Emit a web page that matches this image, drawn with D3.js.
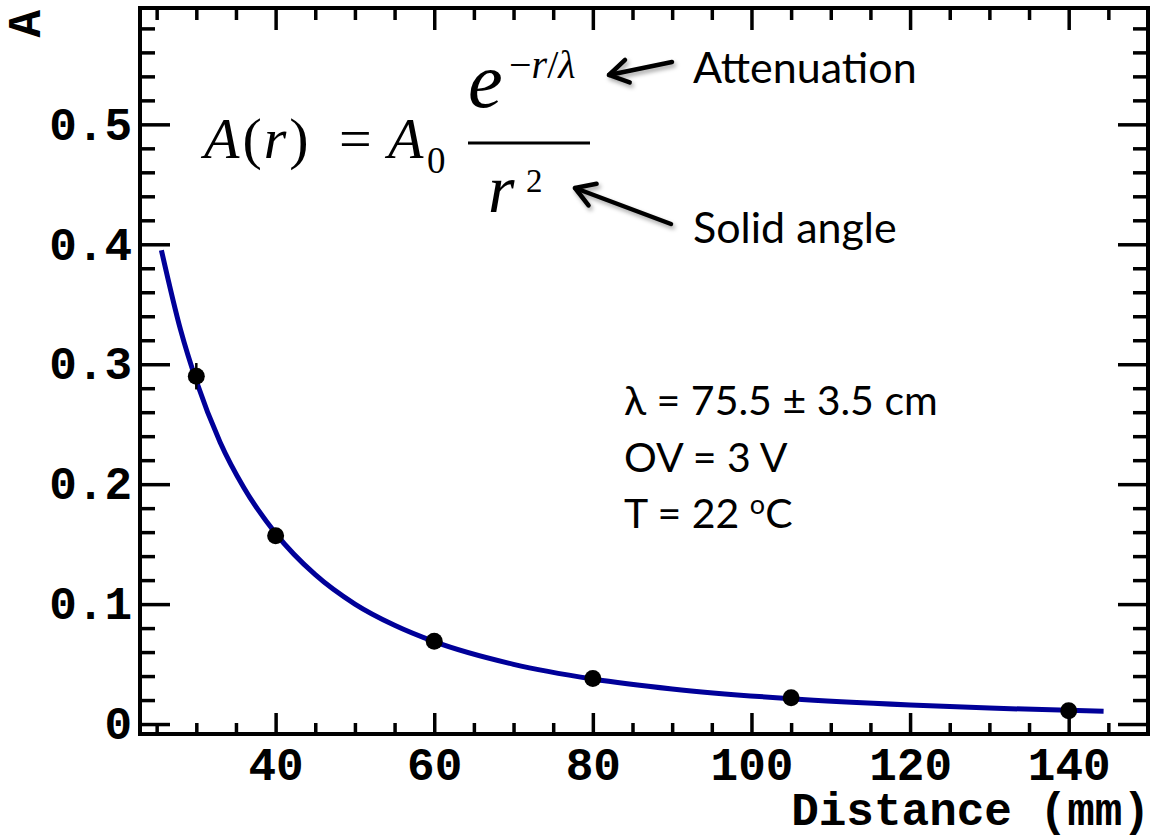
<!DOCTYPE html>
<html>
<head>
<meta charset="utf-8">
<script src="https://cdn.jsdelivr.net/npm/d3@7"></script>
<style>
  body { margin: 0; background: #fff; }
  svg { display: block; }
</style>
</head>
<body>
<div id="chart"></div>
<script>
// measured points: distance (mm) and amplitude
var distance = [30, 40, 60, 80, 105, 140];
var amplitude = [0.290, 0.157, 0.069, 0.038, 0.022, 0.011];
var ampError = [0.011, 0.004, 0.003, 0.002, 0.002, 0.002];

// fit curve
var fitR = [25.6, 28, 30, 33, 36, 40, 45, 50, 55, 60, 70, 80, 90, 105, 120, 130, 144.4];
var fitA = [0.395, 0.329, 0.286, 0.235, 0.197, 0.159, 0.1245, 0.100, 0.0823, 0.0687,
            0.0498, 0.0376, 0.0293, 0.0211, 0.0159, 0.0133, 0.0106];

var xMajor = [40, 60, 80, 100, 120, 140];
var xMinor = [25, 30, 35, 45, 50, 55, 65, 70, 75, 85, 90, 95, 105, 110, 115, 125, 130, 135, 145];
var yMajor = [0, 0.1, 0.2, 0.3, 0.4, 0.5];
var yMinor = [0.02, 0.04, 0.06, 0.08, 0.12, 0.14, 0.16, 0.18, 0.22, 0.24, 0.26, 0.28,
              0.32, 0.34, 0.36, 0.38, 0.42, 0.44, 0.46, 0.48, 0.52, 0.54, 0.56, 0.58];

var width = 1153, height = 839;
var margin = {top: 8, right: 5, bottom: 105, left: 140};
var w = width - margin.left - margin.right;
var h = height - margin.top - margin.bottom;

var svg = d3.select("#chart").append("svg")
  .attr("width", width)
  .attr("height", height);

var defs = svg.append("defs");
var shadow = defs.append("filter").attr("id", "shadow")
  .attr("x", "-20%").attr("y", "-50%").attr("width", "140%").attr("height", "200%");
shadow.append("feDropShadow")
  .attr("dx", 2).attr("dy", 3).attr("stdDeviation", 2)
  .attr("flood-color", "#000").attr("flood-opacity", 0.35);

var g = svg.append("g")
  .attr("transform", "translate(" + margin.left + "," + margin.top + ")");

var x = d3.scaleLinear().domain([22.9, 150]).range([0, w]);
var y = d3.scaleLinear().domain([-0.0083, 0.597]).range([h, 0]);

var tickFont = "'Liberation Mono', 'Courier New', monospace";

function styleAxis(sel) {
  sel.select(".domain").remove();
  sel.selectAll("line").attr("stroke", "#000").attr("stroke-width", 3.5);
  sel.selectAll("text")
    .attr("fill", "#000")
    .style("font-family", tickFont)
    .style("font-weight", "bold")
    .style("font-size", "46px");
}

// bottom axis
g.append("g").attr("transform", "translate(0," + h + ")")
  .call(d3.axisBottom(x).tickValues(xMajor).tickSize(-21).tickPadding(13).tickFormat(d3.format("d")))
  .call(styleAxis);
g.append("g").attr("transform", "translate(0," + h + ")")
  .call(d3.axisBottom(x).tickValues(xMinor).tickSize(-11).tickFormat(""))
  .call(styleAxis);
// top axis
g.append("g")
  .call(d3.axisTop(x).tickValues(xMajor).tickSize(-22).tickFormat(""))
  .call(styleAxis);
g.append("g")
  .call(d3.axisTop(x).tickValues(xMinor).tickSize(-12).tickFormat(""))
  .call(styleAxis);
// left axis
g.append("g")
  .call(d3.axisLeft(y).tickValues(yMajor).tickSize(-30).tickPadding(8)
    .tickFormat(function(d) { return d === 0 ? "0" : d3.format(".1f")(d); }))
  .call(styleAxis);
g.append("g")
  .call(d3.axisLeft(y).tickValues(yMinor).tickSize(-15).tickFormat(""))
  .call(styleAxis);
// right axis
g.append("g").attr("transform", "translate(" + w + ",0)")
  .call(d3.axisRight(y).tickValues(yMajor).tickSize(-30).tickFormat(""))
  .call(styleAxis);
g.append("g").attr("transform", "translate(" + w + ",0)")
  .call(d3.axisRight(y).tickValues(yMinor).tickSize(-15).tickFormat(""))
  .call(styleAxis);

// frame
g.append("rect")
  .attr("width", w).attr("height", h)
  .attr("fill", "none").attr("stroke", "#000").attr("stroke-width", 4);

// axis titles
svg.append("text")
  .attr("x", margin.left + w + 2).attr("y", 825)
  .attr("text-anchor", "end")
  .style("font-family", tickFont).style("font-weight", "bold").style("font-size", "46px")
  .text("Distance (mm)");
svg.append("text")
  .attr("transform", "translate(40," + (margin.top + 2) + ") rotate(-90)")
  .attr("text-anchor", "end")
  .style("font-family", tickFont).style("font-weight", "bold").style("font-size", "46px")
  .text("A");

// fit curve
var fitData = fitR.map(function(r, i) { return {r: r, a: fitA[i]}; });
g.append("path")
  .datum(fitData)
  .attr("fill", "none")
  .attr("stroke", "#000099")
  .attr("stroke-width", 5)
  .attr("d", d3.line()
    .x(function(d) { return x(d.r); })
    .y(function(d) { return y(d.a); })
    .curve(d3.curveMonotoneX));

// data points with error bars
var pts = distance.map(function(r, i) { return {r: r, a: amplitude[i], e: ampError[i]}; });
g.selectAll(".err").data(pts).enter().append("line")
  .attr("class", "err")
  .attr("x1", function(d) { return x(d.r); })
  .attr("x2", function(d) { return x(d.r); })
  .attr("y1", function(d) { return y(d.a - d.e); })
  .attr("y2", function(d) { return y(d.a + d.e); })
  .attr("stroke", "#000").attr("stroke-width", 2.5);
g.selectAll(".pt").data(pts).enter().append("circle")
  .attr("class", "pt")
  .attr("cx", function(d) { return x(d.r); })
  .attr("cy", function(d) { return y(d.a); })
  .attr("r", 8.5)
  .attr("fill", "#000");

// formula
var serif = "'Liberation Serif', 'Times New Roman', serif";
var f = svg.append("g").style("font-family", serif).attr("fill", "#000");
var t1 = f.append("text").attr("x", 204).attr("y", 158).style("font-size", "58px");
t1.append("tspan").style("font-style", "italic").text("A");
t1.append("tspan").attr("dx", 3).text("(");
t1.append("tspan").attr("dx", 2).style("font-style", "italic").text("r");
t1.append("tspan").attr("dx", 3).text(")");
f.append("text").attr("x", 339).attr("y", 158).style("font-size", "58px").text("=");
f.append("text").attr("x", 388).attr("y", 158).style("font-size", "58px").style("font-style", "italic").text("A");
f.append("text").attr("x", 427).attr("y", 173).style("font-size", "37px").text("0");
f.append("text").attr("x", 468).attr("y", 107).style("font-size", "78px").style("font-style", "italic").text("e");
var sup = f.append("text").attr("x", 509).attr("y", 78).style("font-size", "40px");
sup.append("tspan").text("\u2212");
sup.append("tspan").style("font-style", "italic").text("r");
sup.append("tspan").text("/");
sup.append("tspan").style("font-style", "italic").text("\u03bb");
f.append("line").attr("x1", 468).attr("x2", 590).attr("y1", 143).attr("y2", 143)
  .attr("stroke", "#000").attr("stroke-width", 3);
f.append("text").attr("x", 488).attr("y", 212).style("font-size", "68px").style("font-style", "italic").text("r");
f.append("text").attr("x", 526).attr("y", 192).style("font-size", "33px").text("2");

// arrows
function arrow(x1, y1, x2, y2) {
  var ang = Math.atan2(y1 - y2, x1 - x2);
  var len = 22, spread = 0.55;
  var a = svg.append("g").attr("filter", "url(#shadow)")
    .attr("stroke", "#000").attr("stroke-width", 4.5).attr("fill", "none")
    .attr("stroke-linecap", "round").attr("stroke-linejoin", "round");
  a.append("line").attr("x1", x1).attr("y1", y1).attr("x2", x2).attr("y2", y2);
  a.append("path").attr("d",
    "M" + (x2 + len * Math.cos(ang + spread)) + "," + (y2 + len * Math.sin(ang + spread)) +
    "L" + x2 + "," + y2 +
    "L" + (x2 + len * Math.cos(ang - spread)) + "," + (y2 + len * Math.sin(ang - spread)));
}
arrow(672, 62, 609, 75);
arrow(671, 224, 575, 188);

// annotations
var sans = "Lato, 'Open Sans', sans-serif";
svg.append("text").attr("x", 693).attr("y", 83)
  .style("font-family", sans).style("font-size", "43px").text("Attenuation");
svg.append("text").attr("x", 693).attr("y", 243)
  .style("font-family", sans).style("font-size", "43px").text("Solid angle");

var info = svg.append("g").style("font-family", sans).style("font-size", "41px");
info.append("text").attr("x", 624).attr("y", 415).text("\u03bb = 75.5 \u00b1 3.5 cm");
info.append("text").attr("x", 624).attr("y", 472).text("OV = 3 V");
var tt = info.append("text").attr("x", 624).attr("y", 528);
tt.append("tspan").text("T = 22 ");
tt.append("tspan").attr("dy", -14).style("font-size", "27px").text("o");
tt.append("tspan").attr("dy", 14).text("C");
</script>
</body>
</html>
